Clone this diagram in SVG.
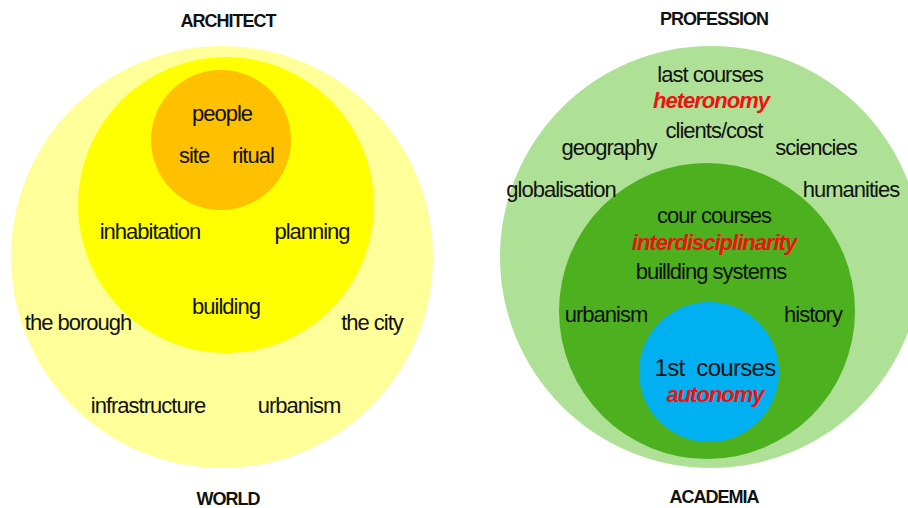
<svg xmlns="http://www.w3.org/2000/svg" width="908" height="508" viewBox="0 0 908 508">
<style>
text{font-family:"Liberation Sans",Arial,sans-serif;fill:#111;text-anchor:middle}
.t{font-size:22px;letter-spacing:-1px}
.h{font-size:18px;font-weight:bold;letter-spacing:-1px}
.r{font-size:22px;font-weight:bold;font-style:italic;fill:#ee1111;letter-spacing:-1px}
</style>
<rect width="908" height="508" fill="#ffffff"/>
<g id="world"><circle cx="222" cy="257" r="211" fill="#ffff99"/></g>
<g id="architect-mid"><circle cx="226" cy="205" r="148" fill="#ffff00"/></g>
<g id="architect-core"><circle cx="221" cy="140" r="70" fill="#ffc000"/></g>
<g id="profession"><circle cx="711" cy="257" r="211" fill="#aee196"/></g>
<g id="core-courses"><circle cx="707" cy="311" r="148" fill="#4db01f"/></g>
<g id="first-courses"><circle cx="709" cy="372" r="70" fill="#00b0f0"/></g>
<g id="connectors"></g>
<g id="labels-left">
<text class="h" x="228" y="27">ARCHITECT</text>
<text class="h" x="228" y="505">WORLD</text>
<text class="t" x="222" y="121">people</text>
<text class="t" x="194" y="163">site</text>
<text class="t" x="253" y="163">ritual</text>
<text class="t" x="150" y="239">inhabitation</text>
<text class="t" x="312" y="239">planning</text>
<text class="t" x="226" y="314">building</text>
<text class="t" x="78" y="330">the borough</text>
<text class="t" x="372" y="330">the city</text>
<text class="t" x="148" y="413">infrastructure</text>
<text class="t" x="299" y="413">urbanism</text>
</g>
<g id="labels-right">
<text class="h" x="714" y="25">PROFESSION</text>
<text class="h" x="714" y="503">ACADEMIA</text>
<text class="t" x="710" y="82">last courses</text>
<text class="r" x="711" y="108">heteronomy</text>
<text class="t" x="714" y="138">clients/cost</text>
<text class="t" x="609" y="155">geography</text>
<text class="t" x="816" y="155">sciencies</text>
<text class="t" x="561" y="197">globalisation</text>
<text class="t" x="851" y="197">humanities</text>
<text class="t" x="714" y="223">cour courses</text>
<text class="r" x="714" y="250">interdisciplinarity</text>
<text class="t" x="711" y="279">buillding systems</text>
<text class="t" x="606" y="322">urbanism</text>
<text class="t" x="813" y="322">history</text>
<text class="t" x="715" y="376" style="font-size:24px;letter-spacing:-0.7px" xml:space="preserve">1st  courses</text>
<text class="r" x="715" y="402">autonomy</text>
</g>
</svg>
